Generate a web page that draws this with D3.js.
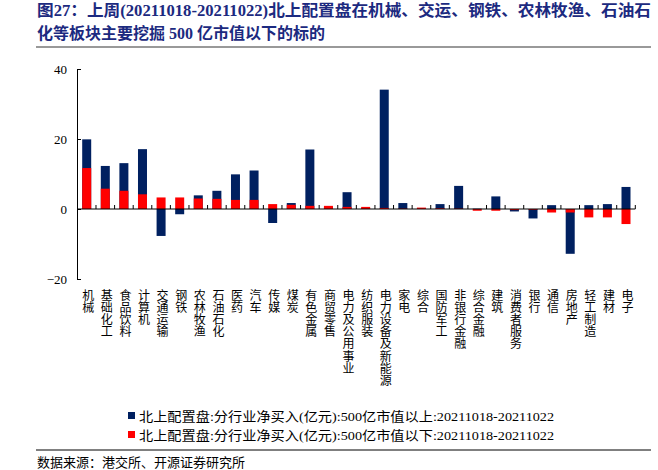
<!DOCTYPE html>
<html>
<head>
<meta charset="utf-8">
<script src="https://cdn.jsdelivr.net/npm/d3@7"></script>
<style>
  body { margin: 0; background: #fff; }
  svg { display: block; }
  .axis text { font-family: "Liberation Serif", serif; font-size: 13px; fill: #000; }
  .axis path, .axis line { stroke: #000; }
  .xlab { writing-mode: vertical-rl; text-orientation: upright; }
</style>
</head>
<body>
<div id="chart"></div>
<script>
var categories = ["机械", "基础化工", "食品饮料", "计算机", "交通运输", "钢铁", "农林牧渔", "石油石化", "医药", "汽车",
    "传媒", "煤炭", "有色金属", "商贸零售", "电力及公用事业", "纺织服装", "电力设备及新能源", "家电", "综合", "国防军工",
    "非银行金融", "综合金融", "建筑", "消费者服务", "银行", "通信", "房地产", "轻工制造", "建材", "电子"];

// 500亿市值以上 (navy)
var bigCap = [19.9, 12.3, 13.1, 17.1, -7.7, -1.5, 3.9, 5.2, 9.9, 11.0,
    -4.0, 1.7, 17.0, 0.6, 4.8, 0.2, 34.1, 1.7, 0.1, 1.4,
    6.6, 0.1, 3.6, -0.7, -2.7, 1.1, -12.8, 1.1, 1.4, 6.3];

// 500亿市值以下 (red)
var smallCap = [11.7, 5.8, 5.2, 4.2, 3.3, 3.3, 3.0, 2.9, 2.6, 2.6,
    1.4, 1.2, 0.9, 0.9, 0.6, 0.6, 0.3, 0.1, 0.4, 0.2,
    0.1, -0.5, -0.5, -0.3, -0.2, -1.0, -1.0, -2.4, -2.4, -4.3];

var yTicks = [-20, 0, 20, 40];

var legendLabels = ["北上配置盘:分行业净买入(亿元):500亿市值以上:20211018-20211022",
    "北上配置盘:分行业净买入(亿元):500亿市值以下:20211018-20211022"];

var titleLines = ["图27：上周(20211018-20211022)北上配置盘在机械、交运、钢铁、农林牧渔、石油石",
    "化等板块主要挖掘 500 亿市值以下的标的"];

var source = "数据来源：港交所、开源证券研究所";

var colors = ["#002060", "#ff0000"];
var cjk = "\"Liberation Serif\", \"Noto Sans CJK SC\", serif";

var svg = d3.select("#chart").append("svg").attr("width", 658).attr("height", 470);

// title
svg.selectAll(".title").data(titleLines).enter().append("text")
    .attr("class", "title")
    .attr("x", 37)
    .attr("y", function (d, i) { return 16 + i * 23; })
    .attr("fill", "#1c2a80")
    .style("font-family", cjk)
    .style("font-weight", "bold")
    .style("font-size", "16px")
    .attr("textLength", function (d, i) { return i === 0 ? 614 : null; })
    .attr("lengthAdjust", "spacingAndGlyphs")
    .text(function (d) { return d; });

svg.append("line").attr("x1", 36).attr("x2", 651).attr("y1", 47).attr("y2", 47)
    .attr("stroke", "#777").attr("stroke-width", 1.5);

var x = d3.scaleBand().domain(categories).range([77.4, 635.3]).padding(0);
var y = d3.scaleLinear().domain([-20, 40]).range([279, 69]);
var barW = 9;

var g = svg.append("g");

// navy bars (behind)
g.selectAll(".big").data(bigCap).enter().append("rect")
    .attr("class", "big")
    .attr("x", function (d, i) { return x(categories[i]) + (x.bandwidth() - barW) / 2; })
    .attr("width", barW)
    .attr("y", function (d) { return y(Math.max(0, d)); })
    .attr("height", function (d) { return Math.abs(y(d) - y(0)); })
    .attr("fill", colors[0]);

// red bars (front)
g.selectAll(".small").data(smallCap).enter().append("rect")
    .attr("class", "small")
    .attr("x", function (d, i) { return x(categories[i]) + (x.bandwidth() - barW) / 2; })
    .attr("width", barW)
    .attr("y", function (d) { return y(Math.max(0, d)); })
    .attr("height", function (d) { return Math.abs(y(d) - y(0)); })
    .attr("fill", colors[1]);

// y axis
g.append("g")
    .attr("class", "axis")
    .attr("transform", "translate(77,0)")
    .call(d3.axisLeft(y).tickValues(yTicks).tickSizeInner(-4).tickSizeOuter(0).tickPadding(10));

// zero line with category ticks
g.append("line").attr("x1", 77).attr("x2", 635.3).attr("y1", y(0)).attr("y2", y(0))
    .attr("stroke", "#000");
var bounds = categories.map(function (c) { return x(c); }).concat([x(categories[categories.length - 1]) + x.bandwidth()]);
g.selectAll(".xtick").data(bounds.slice(1)).enter().append("line")
    .attr("x1", function (d) { return d; }).attr("x2", function (d) { return d; })
    .attr("y1", y(0)).attr("y2", y(0) - 4)
    .attr("stroke", "#000");

// vertical category labels
g.selectAll(".xlab").data(categories).enter().append("text")
    .attr("class", "xlab")
    .attr("x", function (d) { return x(d) + x.bandwidth() / 2; })
    .attr("y", 289)
    .style("font-family", cjk)
    .style("font-size", "12px")
    .style("letter-spacing", "0.2px")
    .attr("fill", "#000")
    .text(function (d) { return d; });

// legend
var leg = svg.selectAll(".leg").data(legendLabels).enter().append("g")
    .attr("class", "leg")
    .attr("transform", function (d, i) { return "translate(128," + (416 + i * 19) + ")"; });
leg.append("rect").attr("x", 0).attr("y", -4).attr("width", 7).attr("height", 7)
    .attr("fill", function (d, i) { return colors[i]; });
leg.append("text").attr("x", 11).attr("y", 4.5)
    .style("font-family", cjk).style("font-size", "13px").attr("fill", "#000")
    .attr("textLength", 415).attr("lengthAdjust", "spacingAndGlyphs")
    .text(function (d) { return d; });

svg.append("line").attr("x1", 36).attr("x2", 651).attr("y1", 450).attr("y2", 450)
    .attr("stroke", "#000").attr("stroke-width", 1);

svg.append("text").attr("x", 37).attr("y", 467)
    .style("font-family", cjk).style("font-size", "13px").attr("fill", "#000")
    .text(source);
</script>
</body>
</html>
